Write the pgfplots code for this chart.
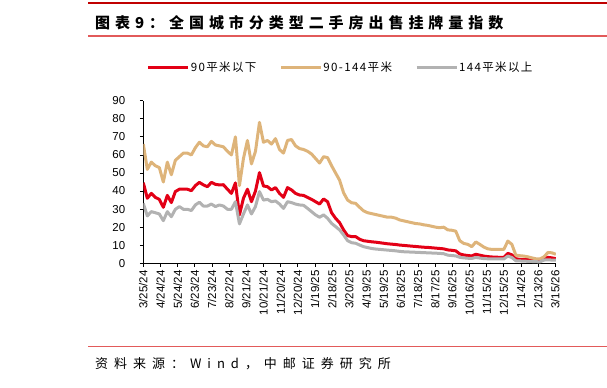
\documentclass[border=0pt]{standalone}
\usepackage{pgfplots}
\usepackage{pgfplotstable}
\pgfplotsset{compat=1.18}
\usepackage{fontspec}
\setmainfont{Liberation Sans}
\newfontfamily\cjk{Noto Sans CJK SC}
\definecolor{sred}{RGB}{227,0,22}
\definecolor{sorange}{RGB}{222,180,122}
\definecolor{sgray}{RGB}{178,178,178}
\definecolor{topred}{RGB}{192,0,0}
\definecolor{lightred}{RGB}{226,90,90}

\pgfplotstableread{
a b c
44.6 66 33.2
36 52 26.2
38.7 56 28.6
36.5 54 28
35.4 53 27.3
31 45 23.6
37.6 56 28.6
33.6 49 25.8
39.7 57 29.9
41 59 31.4
41.1 61 29.9
41 61 29.9
40.2 60 29.2
43 64 32.3
44.8 67 33.8
43.4 65 31.7
42.4 64.5 31.7
44.8 67.5 32.8
43.7 65.5 31.4
43.4 65 32.3
43.5 64.5 31.7
41 62 29.9
38.7 60 29.9
44.5 70 34.1
26.8 43 21.8
36 58 27.3
41 68 32.3
34.1 55 27.3
40 62 31.4
50.2 78 39.7
42.8 67 35
42.4 68 35.4
40.6 66 34.1
41.9 69 34.5
38.7 63 32.8
36.5 61 30.4
41.9 68 34.1
40.6 68.5 33.6
38.7 65 32.8
37.8 63.5 32.3
37.6 63 32.1
36.5 62 30.4
35.4 60.5 28.6
34.1 58 26.8
32.8 55.5 25.5
35.6 59 26.8
34.1 58.5 24.9
28 54 22.1
24.9 50 20.3
22.5 46 18.5
18.5 39 15.7
15.3 35 12.5
14.8 33.5 11.4
14.8 33.2 11.1
13.3 31 10.1
12.5 29 9.2
12.2 28 8.7
11.9 27.5 8.2
11.7 27 7.9
11.4 26.5 7.7
11.1 26 7.5
10.8 25.5 7.3
10.6 25.5 7.1
10.4 25 6.9
10.1 24 6.6
9.9 23.5 6.4
9.7 23 6.3
9.5 22.5 6.2
9.3 22 6.1
9.1 21.8 6.0
8.9 21.3 5.9
8.8 21 5.8
8.6 20.5 5.7
8.4 20 5.6
8.2 19.7 5.5
8.0 20 5.3
7.4 18.5 4.5
7.2 18.3 4.3
6.9 17.8 4.1
5.2 12.5 3.3
4.6 11 3.0
4.3 10.5 2.8
4.1 9.2 2.7
5.0 11.8 3.2
4.5 10.5 2.9
4.0 9 2.6
3.7 8 2.5
3.5 7.7 2.4
3.4 7.7 2.4
3.3 7.7 2.4
3.3 7.7 2.4
5.5 12.3 4.0
4.7 10.5 3.2
2.5 4.5 1.4
2.2 4.2 1.3
2.1 4 1.2
2.0 3.6 1.1
1.9 3 1.0
1.8 2.5 0.9
1.8 2.4 0.8
3.0 3.5 1.8
3.3 6 1.9
3.0 5.8 1.8
2.6 5 1.7
}\datatable

\begin{document}
\begin{tikzpicture}[x=1bp,y=1bp]
\useasboundingbox (0,0) rectangle (607,387);
% header
\draw[topred, line width=2bp] (88,383.7) -- (607,383.7);
\node[anchor=west, inner sep=0] at (95,364) {\cjk\bfseries\fontsize{15bp}{15bp}\selectfont\addfontfeature{LetterSpace=33}图表9：全国城市分类型二手房出售挂牌量指数};
\draw[lightred, line width=1.2bp] (88,351) -- (607,351);
% footer
\draw[lightred, line width=1.2bp] (88,40.3) -- (607,40.3);
\node[anchor=west, inner sep=0] at (95,23.7) {\cjk\fontsize{13bp}{13bp}\selectfont\addfontfeature{LetterSpace=46}资料来源：Wind，中邮证券研究所};

\begin{axis}[
  at={(143.3bp,123.7bp)}, anchor=south west,
  scale only axis, width=412.6bp, height=162.6bp,
  xmin=0, xmax=721, ymin=0, ymax=90,
  axis x line*=bottom, axis y line*=left,
  axis line style={line width=0.8bp, black},
  tick align=outside, major tick length=3.5bp,
  tick style={line width=0.8bp, black},
  xtick={0,30,...,720},
  xticklabels={3/25/24,4/24/24,5/24/24,6/23/24,7/23/24,8/22/24,9/21/24,10/21/24,11/20/24,12/20/24,1/19/25,2/18/25,3/20/25,4/19/25,5/19/25,6/18/25,7/18/25,8/17/25,9/16/25,10/16/25,11/15/25,12/15/25,1/14/26,2/13/26,3/15/26},
  xticklabel style={rotate=90, anchor=east, font=\fontsize{11.5bp}{12bp}\selectfont},
  ytick={0,10,...,90},
  yticklabel style={font=\fontsize{11.5bp}{12bp}\selectfont, xshift=-11bp},
  /pgf/number format/assume math mode=true,
  legend columns=3,
  legend style={draw=none, fill=none, at={(0.477,1.207)}, anchor=center,
    font=\cjk\fontsize{11.5bp}{12bp}\selectfont\addfontfeature{LetterSpace=12},
    nodes={inner sep=1bp, anchor=west},
    /tikz/every even column/.append style={column sep=22bp}},
  legend image code/.code={\draw[#1] (0bp,0bp) -- (40bp,0bp);},
  every axis plot/.append style={line width=3bp, line join=round},
]
\addplot[sred] table[x expr=\coordindex*7, y=a] {\datatable};
\addlegendentry{90平米以下}
\addplot[sorange] table[x expr=\coordindex*7, y=b] {\datatable};
\addlegendentry{90-144平米}
\addplot[sgray] table[x expr=\coordindex*7, y=c] {\datatable};
\addlegendentry{144平米以上}
\end{axis}
\end{tikzpicture}
\end{document}
